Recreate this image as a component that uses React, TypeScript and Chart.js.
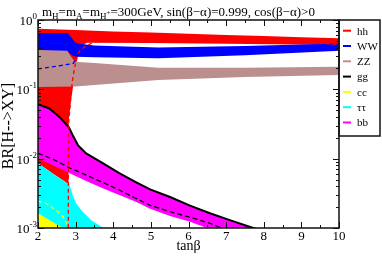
import React, { useEffect, useRef } from "react";
import { Chart, registerables } from "chart.js";

Chart.register(...registerables);

// ---------- data (tanβ, BR) ----------
const hhUpX = [2, 3, 4, 5, 6, 7, 8, 9, 10];
const hhUpY = [0.745, 0.715, 0.685, 0.66, 0.635, 0.61, 0.59, 0.565, 0.545];
const hhLoX = [2, 2.4, 2.81, 2.82, 2.88, 2.94, 3.0, 3.06, 3.15, 3.3, 5, 7, 10];
const hhLoY = [0.0086, 0.00605, 0.0043, 0.036, 0.07, 0.116, 0.2, 0.3, 0.42, 0.47, 0.465, 0.455, 0.436];

const wwUpX = [2, 2.78, 2.87, 2.95, 3.05, 3.5, 5.2, 7.5, 10];
const wwUpY = [0.65, 0.65, 0.58, 0.5, 0.46, 0.43, 0.4, 0.42, 0.46];
const wwLoX = [2, 2.8, 2.9, 3.0, 3.5, 5.2, 7.5, 10];
const wwLoY = [0.369, 0.345, 0.31, 0.295, 0.29, 0.28, 0.31, 0.36];

const zzUpX = [2, 2.78, 2.87, 2.98, 3.5, 5.2, 7.5, 10];
const zzUpY = [0.37, 0.36, 0.3, 0.25, 0.24, 0.205, 0.205, 0.212];
const zzLoX = [2, 3, 3.5, 5.2, 7.5, 10];
const zzLoY = [0.108, 0.11, 0.115, 0.136, 0.15, 0.161];

const ggX = [2, 2.3, 2.57, 2.82, 2.92, 3.06, 3.28, 3.72, 4.16, 4.6, 4.98, 5.51, 6.04, 6.57, 7.1, 7.72, 8.5, 10];
const ggY = [0.061, 0.053, 0.04, 0.0283, 0.0219, 0.0157, 0.0119, 0.0086, 0.0062, 0.0046, 0.0036, 0.0028, 0.0021, 0.00163, 0.0013, 0.001, 0.00075, 0.0005];

const bbLoX = [2, 2.83, 3.28, 3.72, 4.16, 4.6, 4.98, 5.51, 6.04, 6.49, 7, 10];
const bbLoY = [0.0101, 0.0062, 0.00476, 0.00373, 0.003, 0.0024, 0.0019, 0.00149, 0.00123, 0.001, 0.0008, 0.0003];

const ggDashX = [2, 2.39, 2.83, 3.28, 3.72, 4.16, 4.6, 4.98, 5.51, 6.04, 6.57, 6.88, 7.5];
const ggDashY = [0.0119, 0.0099, 0.0074, 0.0058, 0.00456, 0.00353, 0.00268, 0.00212, 0.00172, 0.00143, 0.00117, 0.001, 0.0008];

const ttUpX = [2, 2.4, 2.81, 2.83, 2.92, 3.01, 3.19, 3.41, 3.72, 4.2];
const ttUpY = [0.0086, 0.00605, 0.0043, 0.0043, 0.003, 0.00227, 0.00172, 0.0013, 0.00101, 0.0007];
const ttLoX = [2, 4.2];
const ttLoY = [0.0001, 0.0001];

const ccUpX = [2, 2.66, 3.2];
const ccUpY = [0.00163, 0.001, 0.0007];
const ccLoX = [2, 3.2];
const ccLoY = [0.0001, 0.0001];

const ccDashX = [2, 2.21, 2.48, 2.66, 2.79, 2.9];
const ccDashY = [0.00245, 0.00227, 0.00182, 0.00146, 0.0011, 0.0009];

const hhDashX = [2.806, 2.806, 2.82, 2.91, 2.97, 3.03, 3.12, 3.25, 3.45, 3.7, 5, 8, 9.2, 10];
const hhDashY = [0.0005, 0.0043, 0.036, 0.129, 0.2, 0.296, 0.37, 0.413, 0.47, 0.51, 0.52, 0.5, 0.47, 0.445];

const wwDashX = [2, 2.5, 2.94, 3.05, 3.2, 5, 8, 10];
const wwDashY = [0.197, 0.215, 0.237, 0.31, 0.36, 0.34, 0.38, 0.42];

const xTicks = [2, 3, 4, 5, 6, 7, 8, 9, 10];
const yDecades = [-3, -2, -1, 0];

const legendNames = ["hh", "WW", "ZZ", "gg", "cc", "ττ", "bb"];
const legendColors = ["#ff0000", "#0000ff", "#bc8f8f", "#000000", "#ffff00", "#00ffff", "#ff00ff"];

const FONT = '"Liberation Serif", "Times New Roman", serif';

function band(upX: number[], upY: number[], loX: number[], loY: number[]) {
  const pts = upX.map((x, i) => ({ x, y: upY[i] }));
  for (let i = loX.length - 1; i >= 0; i--) pts.push({ x: loX[i], y: loY[i] });
  return pts;
}
function pts(xs: number[], ys: number[]) {
  return xs.map((x, i) => ({ x, y: ys[i] }));
}

function bandDs(data: any, color: string, order: number) {
  return {
    data,
    fill: "shape",
    backgroundColor: color,
    borderColor: "rgba(0,0,0,0)",
    borderWidth: 1,
    pointRadius: 0,
    order,
  };
}
function lineDs(data: any, color: string, width: number, dash: number[]) {
  return {
    data,
    fill: false,
    borderColor: color,
    borderWidth: width,
    borderDash: dash,
    pointRadius: 0,
    order: 0,
  };
}

function drawRich(ctx: CanvasRenderingContext2D, parts: any[], x: number, y: number) {
  for (const p of parts) {
    ctx.font = `${p.size}px ${FONT}`;
    ctx.fillText(p.t, x, y + (p.dy || 0));
    x += ctx.measureText(p.t).width;
  }
  return x;
}

const framePlugin = {
  id: "frame",
  afterDatasetsDraw(chart: any) {
    const { ctx, chartArea: a, scales } = chart;
    const xs = scales.x;
    const ys = scales.y;
    ctx.save();
    ctx.strokeStyle = "#111";
    ctx.lineWidth = 1;
    const seg = (x1: number, y1: number, x2: number, y2: number) => {
      ctx.beginPath();
      ctx.moveTo(x1, y1);
      ctx.lineTo(x2, y2);
      ctx.stroke();
    };
    // x ticks
    for (let v = 2; v <= 10.001; v += 0.5) {
      const px = Math.round(xs.getPixelForValue(v)) + 0.5;
      const len = Number.isInteger(v) ? 6 : 3;
      seg(px, a.bottom, px, a.bottom - len);
      seg(px, a.top, px, a.top + len);
    }
    // y ticks
    for (const d of yDecades) {
      for (let k = 1; k <= 9; k++) {
        const v = k * Math.pow(10, d);
        if (v > 1.0001) break;
        const py = Math.round(ys.getPixelForValue(v)) + 0.5;
        const len = k === 1 ? 6 : 3;
        seg(a.left, py, a.left + len, py);
        seg(a.right, py, a.right - len, py);
      }
    }
    // frame
    ctx.lineWidth = 1.5;
    ctx.strokeRect(a.left, a.top, a.right - a.left, a.bottom - a.top);

    ctx.fillStyle = "#000";
    // x tick labels
    ctx.font = `13px ${FONT}`;
    ctx.textAlign = "center";
    ctx.textBaseline = "alphabetic";
    for (const t of xTicks) {
      ctx.fillText(String(t), xs.getPixelForValue(t), a.bottom + 12);
    }
    // y tick labels
    ctx.textAlign = "left";
    for (const d of yDecades) {
      const py = ys.getPixelForValue(Math.pow(10, d));
      const exp = d === 0 ? "0" : "-" + String(-d);
      ctx.font = `9px ${FONT}`;
      const ew = ctx.measureText(exp).width;
      ctx.font = `13px ${FONT}`;
      const bw = ctx.measureText("10").width;
      const x0 = a.left - 1 - ew - bw;
      ctx.fillText("10", x0, py + 5);
      ctx.font = `9px ${FONT}`;
      ctx.fillText(exp, x0 + bw, py - 1);
    }
    // x axis title
    ctx.font = `14px ${FONT}`;
    ctx.textAlign = "center";
    ctx.fillText("tanβ", (a.left + a.right) / 2, a.bottom + 22);
    // y axis title
    ctx.save();
    ctx.translate(13, 126);
    ctx.rotate(-Math.PI / 2);
    ctx.font = `16px ${FONT}`;
    ctx.textAlign = "center";
    ctx.fillText("BR[H-->XY]", 0, 0);
    ctx.restore();
    // title
    ctx.textAlign = "left";
    drawRich(
      ctx,
      [
        { t: "m", size: 13 },
        { t: "H", size: 9, dy: 3 },
        { t: "=m", size: 13 },
        { t: "A", size: 9, dy: 3 },
        { t: "=m", size: 13 },
        { t: "H", size: 9, dy: 3 },
        { t: "+", size: 7, dy: -1 },
        { t: "=300GeV, sin(β−α)=0.999, cos(β−α)>0", size: 13 },
      ],
      42,
      16
    );
    // legend
    const lx = a.right;
    const lw = 41;
    ctx.lineWidth = 1.5;
    ctx.strokeRect(lx, a.top, lw, 116);
    ctx.font = `11px ${FONT}`;
    ctx.textBaseline = "middle";
    for (let i = 0; i < legendNames.length; i++) {
      const y = a.top + 10.7 + i * 15.3;
      ctx.strokeStyle = legendColors[i];
      ctx.lineWidth = 2;
      seg(lx + 4, y, lx + 12, y);
      ctx.fillText(legendNames[i], lx + 18, y + 1);
    }
    ctx.restore();
  },
};

export default function App() {
  const ref = useRef<HTMLCanvasElement | null>(null);
  useEffect(() => {
    if (!ref.current) return;
    const datasets: any[] = [
      lineDs(pts(hhDashX, hhDashY), "#ff0000", 1.3, [4, 3]),
      lineDs(pts(wwDashX, wwDashY), "#0000ff", 1.3, [4, 3]),
      lineDs(pts(ccDashX, ccDashY), "#ffff00", 1.3, [4, 3]),
      lineDs(pts(ggX, ggY), "#000000", 2, []),
      lineDs(pts(ggDashX, ggDashY), "#000000", 1.3, [5, 3]),
      bandDs(band(ccUpX, ccUpY, ccLoX, ccLoY), "#ffff00", 1),
      bandDs(band(ttUpX, ttUpY, ttLoX, ttLoY), "#00ffff", 2),
      bandDs(band(ggX, ggY, bbLoX, bbLoY), "#ff00ff", 3),
      bandDs(band(zzUpX, zzUpY, zzLoX, zzLoY), "#bc8f8f", 4),
      bandDs(band(wwUpX, wwUpY, wwLoX, wwLoY), "#0000ff", 5),
      bandDs(band(hhUpX, hhUpY, hhLoX, hhLoY), "#ff0000", 6),
    ];
    const chart = new Chart(ref.current, {
      type: "line",
      data: { datasets },
      options: {
        responsive: false,
        animation: false,
        events: [],
        layout: { padding: { left: 38, top: 20, right: 43, bottom: 30 } },
        plugins: { legend: { display: false }, title: { display: false }, tooltip: { enabled: false } },
        scales: {
          x: { type: "linear", min: 2, max: 10, display: false },
          y: { type: "logarithmic", min: 0.001, max: 1, display: false },
        },
      } as any,
      plugins: [framePlugin],
    });
    return () => chart.destroy();
  }, []);
  return (
    <div style={{ position: "fixed", left: 0, top: 0, width: 382, height: 258, background: "#fff" }}>
      <canvas ref={ref} width={382} height={258} style={{ display: "block" }} />
    </div>
  );
}
